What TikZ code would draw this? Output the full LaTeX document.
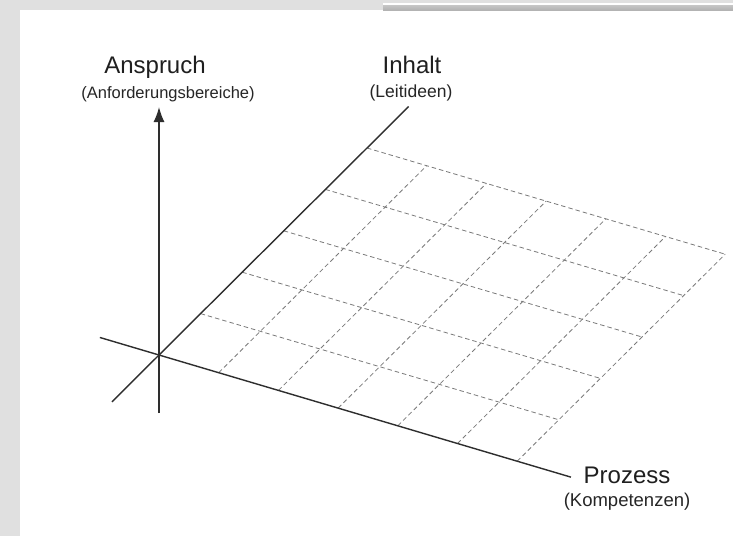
\documentclass[tikz,border=0pt]{standalone}
\usepackage{fontspec}
\setmainfont{Liberation Sans}
\usetikzlibrary{calc,arrows.meta}

\definecolor{panelgray}{HTML}{E0E0E0}
\definecolor{axisgray}{HTML}{2E2E2E}
\definecolor{gridgray}{HTML}{7A7A7A}

\begin{document}
\begin{tikzpicture}[x=1pt, y=-1pt,
		axis/.style={draw=axisgray, line width=1.4pt},
		gridline/.style={draw=gridgray, line width=0.8pt, dash pattern=on 4.5pt off 3pt},
		lbl/.style={font=\fontsize{24}{27}\selectfont, text=black!88, anchor=base, inner sep=0pt},
		sublbl/.style={font=\fontsize{17.5}{20}\selectfont, text=black!85, anchor=base, inner sep=0pt}]
		\useasboundingbox (0,0) rectangle (733,536);
		% frame
		\fill[panelgray] (0,0) rectangle (733,536);
		\fill[white] (20,10) rectangle (733,536);
		\fill[white] (383,3) rectangle (733,5);
		\shade[top color=gray!45, bottom color=gray!60] (383,5) rectangle (733,10);
		% grid geometry
		\coordinate (O) at (159,355);
		\coordinate (ec) at (59.7,17.7);
		\coordinate (er) at (41.6,-41.4);
		% dashed grid
		\foreach \i in {1,...,5}
			\draw[gridline] ($(O)+\i*(er)$) -- ($(O)+\i*(er)+6*(ec)$);
		\foreach \j in {1,...,6}
			\draw[gridline] ($(O)+\j*(ec)$) -- ($(O)+\j*(ec)+5*(er)$);
		% axes
		\coordinate (P0) at ($(O)-0.99*(ec)$);
		\coordinate (P1) at ($(O)+6.9*(ec)$);
		\coordinate (I0) at ($(O)-1.13*(er)$);
		\coordinate (I1) at ($(O)+6*(er)$);
		\coordinate (A0) at (159,413);
		\coordinate (A1) at (159,107);
		\draw[axis] (P0) -- (P1);
		\draw[axis] (I0) -- (I1);
		\draw[axis, -{Latex[length=15pt,width=11pt]}] (A0) -- (A1);
		% labels
		\node[lbl] (anspruch) at (155,73) {Anspruch};
		\node[sublbl, font=\fontsize{16.5}{19}\selectfont] (anspruchsub) at (168,98) {(Anforderungsbereiche)};
		\node[lbl] (inhalt) at (412,73) {Inhalt};
		\node[sublbl] (inhaltsub) at (411,97) {(Leitideen)};
		\node[lbl] (prozess) at (627,483) {Prozess};
		\node[sublbl, font=\fontsize{18.5}{21}\selectfont] (prozesssub) at (627,506) {(Kompetenzen)};
	\end{tikzpicture}
\end{document}
